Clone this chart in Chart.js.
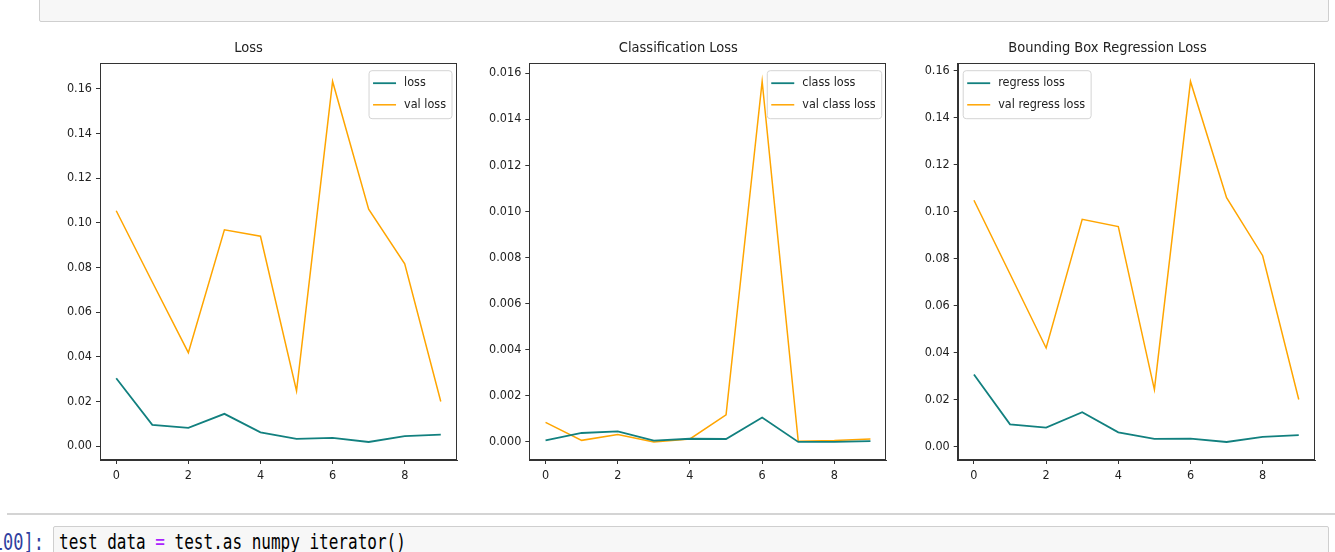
<!DOCTYPE html>
<html>
<head>
<meta charset="utf-8">
<script src="https://cdn.jsdelivr.net/npm/chart.js@4.4.1/dist/chart.umd.min.js"></script>
<style>
  body { margin: 0; background: #fff; width: 1335px; height: 552px; overflow: hidden; position: relative; }
  canvas { position: absolute; top: 30px; }
  .cell { position: absolute; background: #f7f7f7; border: 1px solid #cfcfcf; border-radius: 2px; }
  .sep { position: absolute; left: 7px; top: 513px; width: 1328px; height: 2px; background: #d4d4d4; }
  .prompt { position: absolute; right: 1291px; top: 529px; font: 17px "DejaVu Sans Mono", monospace; color: #303f9f;
            transform: scaleY(1.3); transform-origin: top; white-space: pre; }
  .code { position: absolute; left: 59px; top: 529px; font: 16px "DejaVu Sans Mono", monospace; color: #000;
          transform: scaleY(1.3); transform-origin: top; white-space: pre; }
  .op { color: #aa22ff; }
</style>
</head>
<body>
<div class="cell" style="left:39px; top:-6px; width:1288px; height:26px;"></div>
<canvas id="lossChart" width="430" height="470" style="left:40px"></canvas>
<canvas id="classChart" width="430" height="470" style="left:470px"></canvas>
<canvas id="regressChart" width="435" height="470" style="left:900px"></canvas>
<div class="sep"></div>
<div class="cell" style="left:53px; top:526px; width:1274px; height:40px;"></div>
<div class="prompt">[100]:</div>
<div class="code">test_data <span class="op">=</span> test.as_numpy_iterator()</div>

<script>
// epochs on the x axis
const epochs = [0, 1, 2, 3, 4, 5, 6, 7, 8, 9];
const xTicks = [0, 2, 4, 6, 8];

// total loss
const loss    = [0.0304, 0.0096, 0.0082, 0.0145, 0.0062, 0.0033, 0.0037, 0.0019, 0.0045, 0.0052];
const valLoss = [0.1054, 0.0735, 0.0419, 0.0969, 0.0940, 0.0248, 0.1633, 0.1061, 0.0816, 0.0200];

// classification loss
const classLoss    = [0.00007, 0.00039, 0.00046, 0.00006, 0.00014, 0.00013, 0.00106, 0.00000, 0.00000, 0.00004];
const valClassLoss = [0.00085, 0.00007, 0.00032, 0.00000, 0.00013, 0.00118, 0.01564, 0.00003, 0.00006, 0.00013];

// bounding box regression loss
const regressLoss    = [0.0307, 0.0095, 0.0081, 0.0147, 0.0061, 0.0033, 0.0034, 0.0020, 0.0042, 0.0049];
const valRegressLoss = [0.1049, 0.0735, 0.0420, 0.0968, 0.0937, 0.0243, 0.1555, 0.1060, 0.0813, 0.0201];

const lossTicks  = [0, 0.02, 0.04, 0.06, 0.08, 0.10, 0.12, 0.14, 0.16];
const classTicks = [0, 0.002, 0.004, 0.006, 0.008, 0.010, 0.012, 0.014, 0.016];

const FONT = "'DejaVu Sans Condensed', 'DejaVu Sans', sans-serif";
const TEAL = "#12807f";
const ORANGE = "#ffa500";

// matplotlib style box round the plot area
const framePlugin = {
    id: "frame",
    afterDatasetsDraw(chart) {
        const a = chart.chartArea;
        const ctx = chart.ctx;
        ctx.save();
        ctx.strokeStyle = "#333";
        ctx.lineWidth = 1;
        ctx.strokeRect(Math.round(a.left) + 0.5, Math.round(a.top) + 0.5,
                       Math.round(a.right - a.left) - 1, Math.round(a.bottom - a.top) - 1);
        ctx.restore();
    }
};

// legend drawn inside the plot area, like plt.legend()
const insetLegend = {
    id: "insetLegend",
    afterDraw(chart, args, opts) {
        const a = chart.chartArea;
        const ctx = chart.ctx;
        const sets = chart.data.datasets;
        ctx.save();
        ctx.font = "12.5px " + FONT;
        const textW = Math.max(...sets.map(d => ctx.measureText(d.label).width));
        const w = 35 + textW + 6;
        const h = 48;
        const x = opts.side === "left" ? a.left + 5.5 : a.right - 5 - w;
        const y = a.top + 7.3;

        ctx.beginPath();
        ctx.roundRect(x, y, w, h, 3);
        ctx.fillStyle = "rgba(255,255,255,0.85)";
        ctx.fill();
        ctx.strokeStyle = "#d4d4d4";
        ctx.lineWidth = 1;
        ctx.stroke();

        sets.forEach((d, i) => {
            const cy = y + 12.5 + i * 21.6;
            ctx.strokeStyle = d.borderColor;
            ctx.lineWidth = d.borderWidth;
            ctx.beginPath();
            ctx.moveTo(x + 4, cy);
            ctx.lineTo(x + 27, cy);
            ctx.stroke();
            ctx.fillStyle = "#222";
            ctx.textBaseline = "middle";
            ctx.fillText(d.label, x + 35, cy);
        });
        ctx.restore();
    }
};

function padRange(arrays) {
    const all = arrays.flat();
    const lo = Math.min(...all);
    const hi = Math.max(...all);
    const m = (hi - lo) * 0.05;
    return [lo - m, hi + m];
}

function createLossChart(id, title, labels, series, yTicks, decimals, yWidth, rightPad, legendSide) {
    const [yMin, yMax] = padRange(series);
    const colors = [TEAL, ORANGE];
    const widths = [1.8, 1.5];

    const config = {
        type: "line",
        data: {
            datasets: series.map((vals, i) => ({
                label: labels[i],
                data: epochs.map((e, j) => ({ x: e, y: vals[j] })),
                borderColor: colors[i],
                borderWidth: widths[i],
                pointRadius: 0,
                tension: 0,
                fill: false
            }))
        },
        options: {
            responsive: false,
            animation: false,
            devicePixelRatio: 1,
            layout: { padding: { top: 10, right: rightPad, left: 0, bottom: 0 } },
            plugins: {
                legend: { display: false },
                tooltip: { enabled: false },
                title: {
                    display: true,
                    text: title,
                    color: "#222",
                    font: { family: FONT, size: 14.5, weight: "normal" },
                    lineHeight: 1.1,
                    padding: { top: 0, bottom: 6 }
                },
                insetLegend: { side: legendSide }
            },
            scales: {
                x: {
                    type: "linear",
                    min: -0.45,
                    max: 9.45,
                    afterBuildTicks: s => { s.ticks = xTicks.map(v => ({ value: v })); },
                    afterFit: s => { s.height = 40; },
                    grid: { drawOnChartArea: false, drawTicks: true, tickLength: 4, color: "#333" },
                    border: { display: true, color: "#333" },
                    ticks: {
                        color: "#222",
                        padding: 4,
                        maxRotation: 0,
                        autoSkip: false,
                        font: { family: FONT, size: 12.5 },
                        callback: v => String(v)
                    }
                },
                y: {
                    type: "linear",
                    min: yMin,
                    max: yMax,
                    afterBuildTicks: s => { s.ticks = yTicks.map(v => ({ value: v })); },
                    afterFit: s => { s.width = yWidth; },
                    grid: { drawOnChartArea: false, drawTicks: true, tickLength: 4, color: "#333" },
                    border: { display: true, color: "#333" },
                    ticks: {
                        color: "#222",
                        padding: 4,
                        autoSkip: false,
                        font: { family: FONT, size: 12.5 },
                        callback: v => v.toFixed(decimals)
                    }
                }
            }
        },
        plugins: [framePlugin, insetLegend]
    };

    const ctx = document.getElementById(id).getContext("2d");
    return new Chart(ctx, config);
}

createLossChart("lossChart", "Loss", ["loss", "val loss"],
    [loss, valLoss], lossTicks, 2, 60, 13, "right");
createLossChart("classChart", "Classification Loss", ["class loss", "val class loss"],
    [classLoss, valClassLoss], classTicks, 3, 59.3, 13.3, "right");
createLossChart("regressChart", "Bounding Box Regression Loss", ["regress loss", "val regress loss"],
    [regressLoss, valRegressLoss], lossTicks, 2, 57.7, 20, "left");
</script>
</body>
</html>
